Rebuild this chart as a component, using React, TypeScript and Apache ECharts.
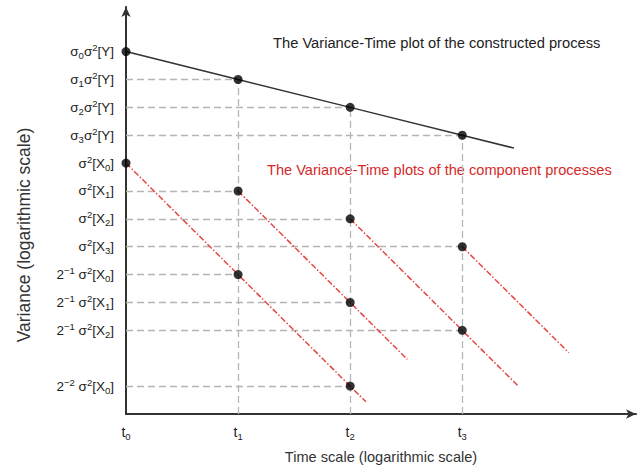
import React, { useEffect, useRef } from 'react';
import * as echarts from 'echarts';

// ---- data ----
const xTickValues = [0, 1, 2, 3];
const xTickLabels = ['t{sub|0}', 't{sub|1}', 't{sub|2}', 't{sub|3}'];

const yTickValues = [13, 12, 11, 10, 9, 8, 7, 6, 5, 4, 3, 1];
const yTickLabels = [
  'σ{sub|0}σ{sup|2}[Y]',
  'σ{sub|1}σ{sup|2}[Y]',
  'σ{sub|2}σ{sup|2}[Y]',
  'σ{sub|3}σ{sup|2}[Y]',
  'σ{sup|2}[X{sub|0}]',
  'σ{sup|2}[X{sub|1}]',
  'σ{sup|2}[X{sub|2}]',
  'σ{sup|2}[X{sub|3}]',
  '2{sup|−1} σ{sup|2}[X{sub|0}]',
  '2{sup|−1} σ{sup|2}[X{sub|1}]',
  '2{sup|−1} σ{sup|2}[X{sub|2}]',
  '2{sup|−2} σ{sup|2}[X{sub|0}]',
];

const constructedLine = [[0, 13], [1, 12], [2, 11], [3, 10], [3.46, 9.54]];
const componentLine0 = [[0, 9], [1, 5], [2, 1], [2.14, 0.44]];
const componentLine1 = [[1, 8], [2, 4], [2.51, 1.96]];
const componentLine2 = [[2, 7], [3, 3], [3.5, 1]];
const componentLine3 = [[3, 6], [3.95, 2.2]];

const constructedPoints = [[0, 13], [1, 12], [2, 11], [3, 10]];
const componentPoints = [[0, 9], [1, 8], [2, 7], [3, 6], [1, 5], [2, 4], [3, 3], [2, 1]];

const titleConstructed = 'The Variance-Time plot of the constructed process';
const titleComponents = 'The Variance-Time plots of the component processes';
const xAxisTitle = 'Time scale (logarithmic scale)';
const yAxisTitle = 'Variance (logarithmic scale)';

const FONT = 'Liberation Sans, Arial, sans-serif';
const RED = '#e64545';

export default function App() {
  const ref = useRef<HTMLDivElement>(null);

  useEffect(() => {
    if (!ref.current) return;
    const chart = echarts.init(ref.current, null, { renderer: 'svg' });

    const allPoints = [...constructedPoints, ...componentPoints];
    const guides: any[] = [];
    allPoints.forEach(([x, y]) => {
      if (x > 0) guides.push([{ coord: [0, y] }, { coord: [x, y] }]);
    });
    xTickValues.forEach((t) => {
      if (t === 0) return;
      const top = Math.max(...allPoints.filter((p) => p[0] === t).map((p) => p[1]));
      guides.push([{ coord: [t, 0] }, { coord: [t, top] }]);
    });

    const rich = {
      sub: { fontSize: 9.5, lineHeight: 10, verticalAlign: 'bottom', fontFamily: FONT, color: '#222' },
      sup: { fontSize: 9.5, lineHeight: 10, verticalAlign: 'top', fontFamily: FONT, color: '#222' },
    };

    const redLine = (data: number[][]) => ({
      type: 'line',
      data,
      showSymbol: false,
      z: 3,
      lineStyle: { color: RED, width: 1.5, type: [6, 2, 1.5, 2] },
      silent: true,
    });

    chart.setOption({
      animation: false,
      textStyle: { fontFamily: FONT },
      grid: { left: 126, right: 5, top: 7, bottom: 54, containLabel: false, outerBoundsMode: 'none' },
      xAxis: {
        type: 'value',
        min: 0,
        max: 4.55,
        interval: 1,
        axisLine: {
          show: true,
          lineStyle: { color: '#333', width: 2 },
          symbol: ['none', 'arrow'],
          symbolSize: [7, 10],
        },
        axisTick: { show: false },
        splitLine: { show: false },
        axisLabel: {
          fontSize: 14,
          color: '#222',
          margin: 9,
          showMaxLabel: false,
          lineHeight: 18,
          fontFamily: FONT,
          formatter: (v: number) => {
            const i = xTickValues.indexOf(v);
            return i < 0 ? '' : xTickLabels[i];
          },
          rich,
        },
        name: xAxisTitle,
        nameLocation: 'middle',
        nameGap: 35,
        nameTextStyle: { fontSize: 14.6, color: '#333', fontFamily: FONT },
      },
      yAxis: {
        type: 'value',
        min: 0,
        max: 14.6,
        interval: 1,
        axisLine: {
          show: true,
          lineStyle: { color: '#333', width: 2 },
          symbol: ['none', 'arrow'],
          symbolSize: [7, 10],
        },
        axisTick: { show: false },
        splitLine: { show: false },
        axisLabel: {
          fontSize: 13.5,
          color: '#222',
          margin: 12,
          showMaxLabel: false,
          lineHeight: 18,
          fontFamily: FONT,
          formatter: (v: number) => {
            const i = yTickValues.indexOf(v);
            return i < 0 ? '' : yTickLabels[i];
          },
          rich,
        },
      },
      series: [
        {
          type: 'line',
          data: constructedLine,
          showSymbol: false,
          z: 3,
          silent: true,
          lineStyle: { color: '#333', width: 1.5 },
          markLine: {
            silent: true,
            symbol: 'none',
            label: { show: false },
            z: 1,
            lineStyle: { color: '#b5b5b5', width: 1.3, type: [7, 4] },
            data: guides,
          },
        },
        redLine(componentLine0),
        redLine(componentLine1),
        redLine(componentLine2),
        redLine(componentLine3),
        {
          type: 'scatter',
          data: allPoints,
          symbol: 'circle',
          symbolSize: 9,
          z: 5,
          silent: true,
          itemStyle: { color: '#000' },
        },
      ],
      graphic: [
        {
          type: 'text',
          x: 273,
          y: 43,
          style: {
            text: titleConstructed,
            fontSize: 14.7,
            fontFamily: FONT,
            fill: '#222',
            textAlign: 'left',
            textVerticalAlign: 'middle',
          },
        },
        {
          type: 'text',
          x: 267,
          y: 170,
          style: {
            text: titleComponents,
            fontSize: 14.6,
            fontFamily: FONT,
            fill: '#d42a2a',
            textAlign: 'left',
            textVerticalAlign: 'middle',
          },
        },
        {
          type: 'text',
          x: 24,
          y: 235,
          rotation: Math.PI / 2,
          style: {
            text: yAxisTitle,
            fontSize: 17.5,
            fontFamily: FONT,
            fill: '#333',
            textAlign: 'center',
            textVerticalAlign: 'middle',
          },
        },
      ],
    });

    return () => chart.dispose();
  }, []);

  return (
    <div
      ref={ref}
      style={{ position: 'fixed', left: 0, top: 0, width: 641, height: 468, background: '#fff' }}
    />
  );
}
